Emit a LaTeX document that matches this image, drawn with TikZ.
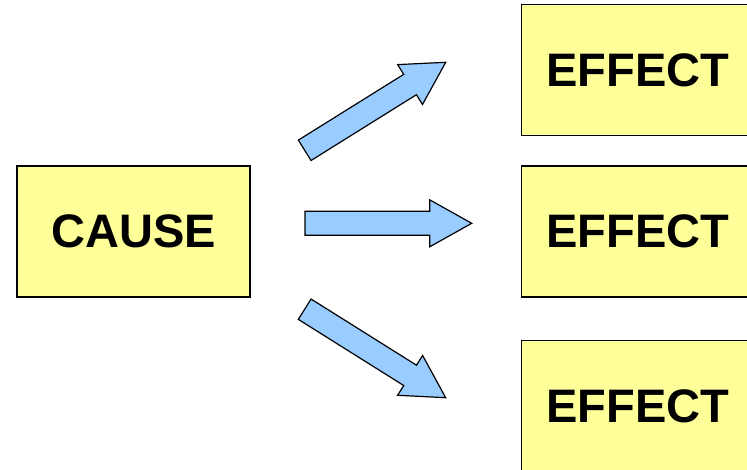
\documentclass[tikz,border=0pt]{standalone}
\usepackage{fontspec}
\setmainfont{Liberation Sans}
\usepackage{tikz}
\usetikzlibrary{positioning,calc}

\definecolor{boxyellow}{HTML}{FFFF99}
\definecolor{arrowblue}{HTML}{99CCFF}

\tikzset{
  textbox/.style = {rectangle, draw, fill=boxyellow, line width=1.5pt,
                    minimum width=233pt, minimum height=131pt, inner sep=0pt,
                    font=\fontsize{47}{47}\selectfont\bfseries},
  blockarrow/.style = {draw, fill=arrowblue, line width=1.2pt, line join=miter}
}

% block arrow from a tail coordinate to a tip coordinate
\newcommand{\blockarrow}[2]{%
  \coordinate (#1-base) at ($(#2)!42pt!(#1)$);
  \draw[blockarrow] ($(#1)!12pt!90:(#2)$)
    -- ($(#1-base)!12pt!90:(#2)$) -- ($(#1-base)!23.5pt!90:(#2)$)
    -- (#2)
    -- ($(#1-base)!23.5pt!-90:(#2)$) -- ($(#1-base)!12pt!-90:(#2)$)
    -- ($(#1)!12pt!-90:(#2)$) -- cycle;
}

\begin{document}
\begin{tikzpicture}[x=1pt,y=-1pt]
	\useasboundingbox (0,0) rectangle (747,469);
	\clip (0,0) rectangle (747,469);
	\node [textbox] (cause) at (133.5,231.5) {CAUSE};
	\node [textbox, right=270pt of cause] (effectmid) {EFFECT};
	\node [textbox, above=29pt of effectmid] (effecttop) {EFFECT};
	\node [textbox, below=42pt of effectmid] (effectbot) {EFFECT};
	% arrows
	\coordinate (uptail) at (304.7,150.3);
	\coordinate (uptip) at (445.7,62.3);
	\coordinate (midtail) at (305,223.3);
	\coordinate (midtip) at (471.7,223.3);
	\coordinate (downtail) at (304.7,309.2);
	\coordinate (downtip) at (445.7,397.7);
	\blockarrow{uptail}{uptip}
	\blockarrow{midtail}{midtip}
	\blockarrow{downtail}{downtip}
\end{tikzpicture}
\end{document}
